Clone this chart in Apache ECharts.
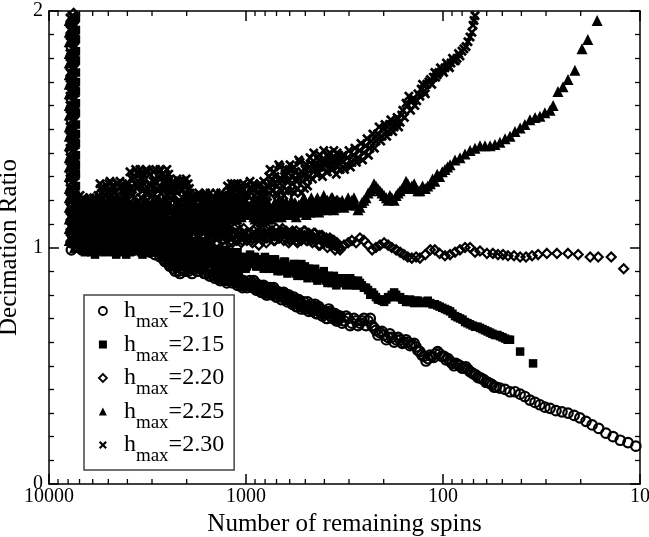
<!DOCTYPE html>
<html><head><meta charset="utf-8">
<script src="https://cdn.jsdelivr.net/npm/echarts@6/dist/echarts.min.js"></script>
<style>html,body{margin:0;padding:0;background:#fff}#c{width:649px;height:537px}</style>
</head><body><div id="c"></div>
<script>
// ---------- data ----------
const hmaxLabels = ['2.10', '2.15', '2.20', '2.25', '2.30'];
const xTickLabels = [10000, 1000, 100, 10];
const yTickLabels = [0, 1, 2];
const logMinorTicks = [20,30,40,50,60,70,80,90,200,300,400,500,600,700,800,900,2000,3000,4000,5000,6000,7000,8000,9000];

// N positions of the dense region (interleaved rows)
const blobN = [6960,6760,6567,6377,6193,6016,5842,5674,5510,5352,5196,5047,4902,4762,4624,4491,4362,4236,4114,3996,3881,3769,3660,3555,3453,3353,3257,3162,3072,2983,2897,2813,2733,2654,2578,2503,2431,2361,2293,2227,2163,2100,2040,1982,1924,1869,1815,1763,1712,1663,1615,1568,1523,1480,1437,1395,1355,1316,1278,1241,1206,1171,1137,1104,1073,1042,1012];
const blobN2 = [6859,6663,6471,6284,6104,5928,5757,5591,5430,5274,5121,4974,4831,4693,4557,4426,4299,4175,4055,3938,3825,3714,3607,3504,3403,3305,3209,3117,3027,2940,2855,2773,2693,2616,2540,2467,2396,2327,2260,2195,2131,2070,2011,1953,1896,1842,1789,1737,1687,1639,1591,1545,1501,1458,1416,1375,1335,1297,1259,1223,1188,1154,1120,1088,1057,1027,997];
const blobN3 = [6809,6615,6424,6238,6060,5885,5715,5550,5391,5235,5084,4938,4796,4658,4524,4394,4267,4144,4025,3909,3797,3687,3581,3478,3378,3281,3185,3094,3005,2918,2834,2753,2673,2597,2521,2449,2378,2310,2243,2179,2115,2055,1996,1938,1882,1828,1776,1724,1675,1627,1579,1534,1490,1447,1405,1365,1325,1287,1250,1214,1179,1145,1112,1080,1049,1019,990];
const blobN4 = [6909,6711,6519,6330,6148,5972,5799,5632,5470,5313,5158,5010,4866,4727,4590,4458,4330,4205,4084,3967,3853,3741,3633,3529,3428,3329,3233,3139,3049,2961,2876,2793,2713,2635,2559,2485,2413,2344,2276,2211,2147,2085,2025,1967,1910,1855,1802,1750,1699,1651,1603,1556,1512,1469,1426,1385,1345,1306,1268,1232,1197,1162,1128,1096,1065,1034,1004];
const midN = [954,927,900,874,849,825,801,778,755,734,713,692,672,653,634,616,598,581,564,548,532,517,502,487,473,460,446,434,421,409,397,386,375,364,353,343];
const midN2 = [940,913,887,861,837,813,789,766,744,723,702,682,662,643,625,607,589,572,556,540,524,509,494,480,466,453,440,427,415,403,391,380,369,358,348,338];
const midN3 = [933,906,880,855,831,807,783,760,739,718,697,677,657,638,620,602,585,568,552,536,520,505,490,476,463,449,437,424,412,400,388,377,366,355,345,335];

// hmax = 2.10 (open circles)
const circlesColumnN = 7700;
const circlesColumn = [1.95,1.90,1.85,1.81,1.76,1.72,1.68,1.63,1.59,1.54,1.50,1.46,1.41,1.37,1.32,1.28,1.24,1.19,1.15,1.11,1.06,1.02,0.99];
const circlesBlob = [1.00,1.05,0.99,1.03,1.07,1.00,1.04,0.99,1.02,1.06,0.99,1.03,1.00,1.05,0.99,1.02,1.06,1.00,1.03,0.99,1.04,1.01,0.99,1.05,1.00,1.02,0.99,1.04,0.98,1.01,0.97,1.02,0.96,0.99,0.94,0.97,0.92,0.96,0.90,0.94,0.89,0.93,0.90,0.94,0.91,0.95,0.92,0.90,0.94,0.91,0.93,0.90,0.88,0.92,0.87,0.90,0.86,0.89,0.87,0.86,0.88,0.85,0.87,0.84,0.86,0.83,0.85];
const circlesBlob2 = [1.03,0.99,1.06,1.01,0.99,1.05,0.99,1.03,0.99,1.04,1.01,0.99,1.06,1.00,1.03,0.99,1.02,1.05,0.99,1.04,1.00,0.99,1.03,1.00,1.04,0.99,1.03,0.99,1.02,0.99,1.03,0.98,0.99,0.95,0.98,0.93,0.95,0.91,0.93,0.90,0.93,0.91,0.93,0.90,0.94,0.91,0.93,0.95,0.91,0.93,0.89,0.92,0.90,0.88,0.90,0.87,0.89,0.86,0.88,0.89,0.86,0.88,0.85,0.87,0.84,0.86,0.84];
const circlesBlob3 = [0.99,1.02,1.01,1.05,0.99,1.02,1.06,1.01,1.04,1.00,1.02,1.05,0.99,1.02,1.04,1.00,0.99,1.03,1.01,1.02,1.00,1.03,1.01,0.99,1.02,1.01,1.00,0.99,1.00,0.99,1.00,0.99,0.97,0.97,0.95,0.95,0.93,0.93,0.92,0.92,0.91,0.90,0.92,0.92,0.89,0.93,0.90,0.92,0.92,0.89,0.91,0.88,0.91,0.89,0.88,0.88,0.87,0.88,0.85,0.87,0.87,0.86,0.86,0.85,0.85,0.85,0.83];
const circlesMid = [0.86,0.83,0.85,0.82,0.84,0.81,0.83,0.80,0.83,0.80,0.82,0.79,0.81,0.79,0.80,0.77,0.79,0.76,0.78,0.75,0.77,0.76,0.74,0.77,0.75,0.73,0.76,0.72,0.74,0.71,0.73,0.70,0.73,0.70,0.72,0.69];
const circlesMid2 = [0.84,0.86,0.82,0.84,0.81,0.84,0.80,0.82,0.81,0.83,0.79,0.81,0.78,0.81,0.78,0.80,0.77,0.79,0.75,0.78,0.74,0.77,0.75,0.73,0.76,0.74,0.72,0.75,0.72,0.73,0.70,0.74,0.71,0.72,0.69,0.71];
const circlesMid3 = [0.85,0.84,0.83,0.83,0.82,0.82,0.81,0.81,0.82,0.81,0.81,0.80,0.80,0.80,0.79,0.78,0.78,0.77,0.77,0.76,0.76,0.75,0.75,0.75,0.74,0.75,0.74,0.73,0.73,0.72,0.72,0.72,0.72,0.71,0.70,0.70];
const circlesTailN = [333,318,303,290,276,264,252,240,229,219,209,199,190,182,173,165,158,151,144,137,131,125,119,114,109,104,98.8,94.3,90.0,85.9,82.0,78.3,74.7,71.3,68.0,64.9,61.9,59.1,56.4,53.8,51.4,48.4,45.7,43.1,40.6,38.4,36.2,34.1,32.2,30.4,28.6,26.7,24.9,23.2,21.6,20.2,18.8,17.5,16.2,14.9,13.7,12.6,11.5,10.5];
const circlesTail = [0.71,0.69,0.70,0.68,0.69,0.68,0.70,0.69,0.67,0.65,0.64,0.63,0.62,0.62,0.61,0.61,0.60,0.60,0.59,0.58,0.56,0.54,0.53,0.54,0.55,0.55,0.54,0.53,0.51,0.51,0.50,0.49,0.485,0.47,0.46,0.45,0.44,0.43,0.42,0.41,0.405,0.40,0.39,0.39,0.38,0.37,0.355,0.345,0.335,0.325,0.32,0.31,0.305,0.30,0.29,0.28,0.265,0.25,0.235,0.215,0.20,0.185,0.175,0.16];
const circlesTail2N = [325,310,296,283,270,258,246,234,224,214,204,194,186,177,169,161,154,147,140,134,128,122,116.5,111.5,106.5,101.4,96.5,92.1,87.9,83.9,80.1,76.5,73,69.6,66.4,63.4,60.5,57.7,55.1];
const circlesTail2 = [0.68,0.71,0.67,0.70,0.67,0.69,0.67,0.70,0.66,0.63,0.645,0.61,0.635,0.60,0.62,0.595,0.61,0.585,0.595,0.565,0.545,0.52,0.545,0.535,0.56,0.54,0.525,0.52,0.50,0.505,0.49,0.495,0.475,0.465,0.45,0.445,0.43,0.425,0.41];

// hmax = 2.15 (filled squares)
const squaresColumnN = 7300;
const squaresColumn = [1.97,1.92,1.88,1.83,1.79,1.74,1.70,1.66,1.61,1.57,1.52,1.48,1.44,1.39,1.35,1.31,1.26,1.22,1.18,1.13,1.09,1.05];
const squaresBlob = [1.00,1.06,0.98,1.04,1.08,1.01,0.97,1.05,1.02,1.07,0.99,1.03,1.06,0.98,1.04,1.00,1.07,0.99,1.03,1.05,0.98,1.02,1.06,1.00,1.04,0.97,1.05,1.01,1.07,0.99,1.03,1.00,1.05,0.98,1.02,1.04,0.97,1.01,1.03,0.96,1.00,0.94,0.99,1.02,0.95,0.98,1.01,0.94,0.97,1.00,0.95,0.98,1.01,0.93,0.97,0.99,0.92,0.96,0.99,0.93,0.97,0.91,0.95,0.98,0.92,0.96,0.93];
const squaresBlob2 = [1.04,0.99,1.07,1.02,0.98,1.05,1.03,1.00,1.06,0.98,1.04,1.08,1.01,1.05,0.97,1.03,1.01,1.05,0.97,1.02,1.06,0.99,1.03,1.07,0.98,1.02,1.00,1.06,0.98,1.04,1.07,1.02,0.99,1.03,1.06,0.99,1.02,1.05,0.98,1.02,0.97,1.01,0.96,0.99,1.00,0.95,0.97,1.00,0.94,0.98,1.00,0.96,0.94,0.99,0.95,0.92,0.97,0.93,0.95,0.98,0.92,0.96,0.93,0.90,0.95,0.91,0.94];
const squaresBlob3 = [1.02,1.03,1.00,1.06,1.01,0.99,1.04,1.02,0.99,1.03,1.05,1.00,1.03,1.02,1.06,0.98,1.04,1.02,1.00,1.06,1.03,1.04,0.99,1.03,1.02,1.05,1.02,0.99,1.03,1.05,0.98,1.04,1.02,1.00,0.99,1.02,1.00,0.98,1.00,0.98,0.98,0.97,1.01,0.96,0.97,1.01,0.99,0.96,0.99,0.95,0.97,0.99,0.96,0.96,0.93,0.96,0.94,0.98,0.91,0.95,0.94,0.93,0.97,0.94,0.91,0.93,0.92];
const squaresBlob4 = [1.06,1.01,1.03,0.99,1.05,1.03,1.07,0.99,1.04,1.01,1.07,0.99,1.04,1.06,1.01,1.05,0.99,1.04,1.06,1.01,1.04,1.07,1.01,1.05,0.99,1.03,1.06,1.03,1.00,1.06,1.01,1.05,0.99,1.04,1.00,1.06,1.03,0.99,1.02,1.00,1.02,0.99,0.97,1.00,0.98,0.96,1.00,0.97,0.95,0.99,0.97,1.00,0.98,0.94,0.98,0.95,0.98,0.94,0.97,0.91,0.96,0.98,0.94,0.92,0.96,0.94,0.91];
const squaresMid = [0.97,0.93,0.96,0.92,0.95,0.93,0.96,0.91,0.94,0.92,0.95,0.90,0.93,0.91,0.94,0.89,0.92,0.90,0.93,0.88,0.91,0.89,0.92,0.87,0.90,0.88,0.91,0.86,0.89,0.87,0.88,0.85,0.87,0.86,0.85,0.86];
const squaresMid2 = [0.94,0.96,0.92,0.95,0.93,0.91,0.94,0.93,0.91,0.95,0.92,0.93,0.90,0.94,0.91,0.92,0.90,0.93,0.89,0.91,0.93,0.88,0.90,0.91,0.88,0.90,0.87,0.89,0.87,0.90,0.86,0.88,0.85,0.88,0.84,0.87];
const squaresMid3 = [0.95,0.95,0.94,0.93,0.94,0.92,0.95,0.92,0.93,0.93,0.93,0.92,0.92,0.92,0.92,0.91,0.91,0.91,0.91,0.90,0.90,0.90,0.91,0.89,0.89,0.89,0.89,0.88,0.88,0.88,0.87,0.87,0.86,0.87,0.86,0.85];
const squaresTailN = [333,318,303,290,276,264,252,240,229,219,209,199,190,182,173,165,158,151,144,137,131,123,116,110,104,97.7,92.1,86.9,82.0,77.3,72.9,68.8,64.9,61.2,57.7,54.5,51.4,48.4,45.7,40.6,34.9];
const squaresTail = [0.85,0.87,0.85,0.86,0.84,0.85,0.83,0.82,0.81,0.79,0.78,0.77,0.79,0.80,0.80,0.79,0.78,0.77,0.77,0.775,0.77,0.77,0.765,0.76,0.75,0.74,0.73,0.71,0.70,0.685,0.675,0.665,0.66,0.65,0.64,0.63,0.625,0.615,0.61,0.56,0.51];
const squaresTail2N = [325,310,296,283,270,258,246,234,224,214,204,194,186,177,169,161,154,147,140,134,127,119.5,113,107,100.9,94.9,89.5,84.4,79.6,75.1,70.8,66.8,63,59.4,56.1,52.9,49.9,47];
const squaresTail2 = [0.86,0.84,0.87,0.84,0.86,0.84,0.83,0.80,0.80,0.78,0.775,0.78,0.79,0.81,0.79,0.78,0.77,0.78,0.765,0.775,0.765,0.775,0.76,0.755,0.745,0.735,0.72,0.705,0.695,0.68,0.67,0.665,0.655,0.645,0.635,0.63,0.62,0.61];

// hmax = 2.20 (open diamonds)
const diamondsColumnN = 7500;
const diamondsColumn = [1.99,1.95,1.90,1.86,1.81,1.77,1.73,1.68,1.64,1.59,1.55,1.51,1.46,1.42,1.37,1.33,1.29,1.24,1.20,1.15,1.10,1.05,1.01];
const diamondsBlob = [1.03,1.10,1.00,1.07,1.12,1.02,1.08,1.05,1.11,1.01,1.06,1.09,1.03,1.12,1.04,1.08,1.00,1.10,1.05,1.13,1.02,1.07,1.11,1.04,1.09,1.01,1.06,1.12,1.03,1.08,1.00,1.10,1.05,1.11,1.02,1.07,1.09,1.03,1.12,1.06,1.01,1.08,1.04,1.10,1.02,1.07,1.05,1.09,1.03,1.08,1.01,1.06,1.09,1.04,1.07,1.02,1.06,1.03,1.08,1.04,1.07,1.02,1.06,1.04,1.07,1.03,1.05];
const diamondsBlob2 = [1.08,1.04,1.12,1.01,1.06,1.10,1.03,1.11,1.05,1.09,1.13,1.04,1.08,1.02,1.10,1.06,1.12,1.03,1.08,1.01,1.10,1.05,1.02,1.09,1.04,1.11,1.07,1.02,1.10,1.05,1.12,1.03,1.08,1.01,1.10,1.04,1.06,1.11,1.02,1.09,1.05,1.03,1.10,1.06,1.09,1.04,1.08,1.01,1.07,1.04,1.09,1.03,1.06,1.08,1.02,1.05,1.09,1.07,1.04,1.08,1.03,1.06,1.09,1.05,1.02,1.08,1.06];
const diamondsBlob3 = [1.06,1.01,1.09,1.04,1.10,1.05,1.11,1.02,1.08,1.05,1.03,1.10,1.06,1.09,1.01,1.11,1.04,1.07,1.02,1.09,1.06,1.03,1.10,1.07,1.02,1.08,1.04,1.09,1.06,1.01,1.09,1.05,1.11,1.04,1.07,1.03,1.10,1.05,1.08,1.03,1.07,1.10,1.03,1.08,1.05,1.10,1.02,1.06,1.05,1.02,1.07,1.05,1.03,1.06,1.08,1.04,1.03,1.05,1.06,1.02,1.05,1.08,1.03,1.07,1.05,1.04,1.03];
const diamondsMid = [1.06,1.02,1.08,1.04,1.07,1.03,1.06,1.08,1.04,1.07,1.03,1.06,1.05,1.08,1.04,1.06,1.03,1.07,1.05,1.02,1.06,1.04,1.07,1.03,1.05,1.02,1.06,1.04,1.01,1.05,1.03,1.00,1.04,1.02,0.99,1.01];
const diamondsMid2 = [1.03,1.07,1.05,1.01,1.05,1.08,1.02,1.05,1.07,1.03,1.08,1.04,1.07,1.03,1.07,1.02,1.05,1.04,1.07,1.04,1.03,1.07,1.03,1.06,1.03,1.06,1.03,1.01,1.05,1.02,1.04,1.02,1.01,1.03,1.01,1.00];
const diamondsMid3 = [1.04,1.05,1.06,1.06,1.05,1.05,1.04,1.06,1.05,1.05,1.05,1.04,1.06,1.06,1.05,1.04,1.06,1.05,1.03,1.05,1.05,1.05,1.05,1.04,1.04,1.04,1.04,1.05,1.03,1.03,1.02,1.03,1.03,1.01,1.02,1.00];
const diamondsTailN = [333,318,303,290,276,264,252,240,229,219,209,199,190,182,173,165,158,151,144,137,131,123,116,110,104,97.7,92.1,86.9,82.0,77.3,72.9,68.8,64.9,59.8,55.8,52.6,49.6,46.8,43.6,40.6,37.9,35.3,32.9,29.7,26.4,23.2,20.6,17.9,16.3,14.0,12.1];
const diamondsTail = [0.99,1.01,1.02,1.03,1.02,1.04,1.03,1.01,0.99,1.00,1.01,1.02,1.01,1.00,0.99,0.98,0.97,0.96,0.955,0.96,0.955,0.97,0.99,0.99,0.975,0.965,0.97,0.98,0.99,1.00,1.00,0.98,0.985,0.975,0.975,0.97,0.97,0.965,0.965,0.96,0.96,0.965,0.97,0.975,0.975,0.975,0.97,0.96,0.96,0.96,0.91];

// hmax = 2.25 (filled triangles)
const trianglesColumnN = 7900;
const trianglesColumn = [1.96,1.91,1.87,1.82,1.78,1.73,1.69,1.65,1.60,1.56,1.51,1.47,1.43,1.38,1.34,1.30,1.25,1.21,1.17,1.12,1.08,1.03];
const trianglesColumn2N = 7420;
const trianglesColumn2 = [1.94,1.89,1.85,1.80,1.75,1.71,1.66,1.62,1.58,1.53,1.49,1.44,1.40,1.35,1.31,1.27,1.22,1.18,1.14,1.09,1.05,1.00];
const trianglesBlob = [1.06,1.15,1.09,1.18,1.05,1.13,1.17,1.08,1.12,1.04,1.16,1.10,1.19,1.07,1.14,1.09,1.17,1.05,1.12,1.20,1.08,1.15,1.11,1.19,1.06,1.14,1.10,1.18,1.07,1.16,1.12,1.20,1.09,1.15,1.05,1.13,1.18,1.08,1.14,1.11,1.17,1.07,1.13,1.10,1.16,1.08,1.14,1.11,1.18,1.09,1.15,1.12,1.17,1.10,1.14,1.11,1.16,1.12,1.18,1.13,1.17,1.14,1.19,1.15,1.18,1.16,1.20];
const trianglesBlob2 = [1.11,1.07,1.16,1.04,1.14,1.09,1.12,1.19,1.06,1.15,1.08,1.18,1.05,1.13,1.20,1.11,1.08,1.14,1.18,1.06,1.16,1.10,1.17,1.07,1.13,1.19,1.05,1.15,1.11,1.09,1.18,1.06,1.14,1.10,1.19,1.07,1.12,1.16,1.09,1.18,1.10,1.14,1.19,1.06,1.12,1.17,1.09,1.15,1.11,1.16,1.08,1.19,1.12,1.15,1.18,1.09,1.13,1.17,1.10,1.19,1.12,1.16,1.14,1.18,1.13,1.19,1.15];
const trianglesBlob3 = [1.09,1.13,1.06,1.16,1.10,1.07,1.15,1.12,1.09,1.14,1.07,1.13,1.16,1.10,1.06,1.18,1.13,1.10,1.16,1.08,1.13,1.18,1.07,1.14,1.17,1.09,1.15,1.12,1.19,1.10,1.14,1.08,1.17,1.12,1.08,1.16,1.11,1.14,1.18,1.09,1.13,1.16,1.09,1.15,1.12,1.18,1.10,1.16,1.13,1.19,1.11,1.14,1.16,1.12,1.17,1.14,1.10,1.15,1.13,1.16,1.15,1.18,1.12,1.16,1.17,1.14,1.18];
const trianglesBlob4 = [1.12,1.18,1.11,1.14,1.08,1.17,1.10,1.16,1.15,1.11,1.18,1.08,1.15,1.18,1.11,1.14,1.10,1.16,1.09,1.14,1.17,1.12,1.15,1.10,1.16,1.12,1.18,1.09,1.15,1.19,1.11,1.16,1.12,1.18,1.14,1.10,1.16,1.13,1.11,1.16,1.15,1.10,1.17,1.13,1.18,1.11,1.16,1.13,1.16,1.12,1.18,1.14,1.10,1.16,1.12,1.18,1.14,1.10,1.16,1.15,1.19,1.12,1.17,1.13,1.15,1.19,1.17];
const trianglesMid = [1.14,1.18,1.12,1.17,1.13,1.19,1.15,1.12,1.17,1.14,1.19,1.13,1.16,1.20,1.15,1.18,1.14,1.17,1.19,1.15,1.18,1.16,1.20,1.17,1.15,1.19,1.17,1.21,1.16,1.19,1.17,1.20,1.18,1.21,1.17,1.20];
const trianglesMid2 = [1.17,1.13,1.19,1.15,1.11,1.16,1.20,1.14,1.12,1.18,1.15,1.20,1.13,1.17,1.19,1.14,1.20,1.16,1.13,1.18,1.15,1.21,1.14,1.19,1.21,1.16,1.20,1.15,1.19,1.22,1.16,1.18,1.21,1.16,1.20,1.18];
const trianglesMid3 = [1.16,1.15,1.17,1.13,1.16,1.14,1.17,1.16,1.15,1.16,1.17,1.15,1.18,1.14,1.17,1.16,1.18,1.15,1.16,1.17,1.19,1.17,1.18,1.15,1.18,1.17,1.19,1.18,1.18,1.20,1.19,1.17,1.19,1.19,1.18,1.19];
const trianglesTailN = [333,318,303,290,276,264,252,240,229,219,209,199,190,182,173,165,158,151,144,137,131,123,116,110,104,97.7,92.1,86.9,82.0,77.3,72.9,68.8,64.9,61.2,57.7,54.5,51.4,48.4,45.7,43.1,40.6,38.4,36.2,34.1,32.2,30.4,28.6,27.6,26.1,24.6,23.2,21.4,19.7,18.4,16.5];
const trianglesTail = [1.19,1.17,1.21,1.20,1.18,1.17,1.20,1.23,1.25,1.26,1.24,1.22,1.20,1.21,1.22,1.24,1.26,1.27,1.26,1.25,1.24,1.25,1.27,1.28,1.30,1.33,1.35,1.37,1.38,1.395,1.41,1.42,1.43,1.43,1.43,1.435,1.445,1.46,1.47,1.49,1.505,1.52,1.54,1.55,1.555,1.57,1.58,1.60,1.66,1.68,1.71,1.75,1.84,1.88,1.96];
const trianglesTail2N = [325,310,296,283,270,258,246,234,224,214,204,194,186,177,169,161,154,147,140,134,127,119.5,113,107,100.9,94.9];
const trianglesTail2 = [1.20,1.19,1.18,1.21,1.16,1.19,1.21,1.24,1.27,1.25,1.23,1.21,1.22,1.20,1.23,1.25,1.28,1.25,1.27,1.24,1.26,1.26,1.29,1.31,1.32,1.34];

// hmax = 2.30 (crosses)
const crossesColumnN = 7600;
const crossesColumn = [1.98,1.93,1.89,1.84,1.80,1.76,1.71,1.67,1.62,1.58,1.54,1.49,1.45,1.41,1.36,1.32,1.28,1.24,1.20,1.16,1.12,1.07,1.02];
const crossesColumn2N = 7820;
const crossesColumn2 = [1.97,1.92,1.87,1.82,1.78,1.74,1.69,1.64,1.60,1.56,1.51,1.47,1.42,1.38,1.34,1.29,1.25,1.21,1.17,1.13,1.09,1.04];
const crossesBlob = [1.22,1.14,1.18,1.10,1.21,1.13,1.17,1.11,1.27,1.17,1.22,1.14,1.28,1.18,1.23,1.15,1.28,1.19,1.24,1.16,1.32,1.22,1.27,1.19,1.33,1.24,1.29,1.20,1.31,1.23,1.28,1.21,1.33,1.25,1.30,1.22,1.29,1.20,1.25,1.17,1.28,1.21,1.26,1.18,1.23,1.15,1.19,1.12,1.22,1.16,1.20,1.13,1.23,1.17,1.21,1.14,1.22,1.18,1.20,1.26,1.19,1.23,1.17,1.27,1.21,1.25,1.20];
const crossesBlob2 = [1.16,1.20,1.12,1.19,1.15,1.21,1.12,1.18,1.20,1.25,1.16,1.27,1.19,1.25,1.17,1.21,1.26,1.14,1.20,1.27,1.25,1.30,1.17,1.31,1.21,1.27,1.33,1.23,1.26,1.32,1.19,1.30,1.23,1.28,1.20,1.31,1.23,1.27,1.19,1.28,1.24,1.16,1.29,1.22,1.18,1.21,1.14,1.23,1.19,1.11,1.21,1.17,1.20,1.13,1.23,1.16,1.19,1.12,1.22,1.22,1.27,1.18,1.25,1.20,1.26,1.18,1.23];
const crossesBlob3 = [1.19,1.12,1.20,1.15,1.09,1.17,1.20,1.14,1.23,1.19,1.26,1.21,1.16,1.21,1.27,1.19,1.24,1.22,1.27,1.18,1.29,1.21,1.25,1.31,1.26,1.18,1.32,1.27,1.22,1.29,1.25,1.32,1.20,1.27,1.33,1.24,1.26,1.22,1.29,1.19,1.24,1.27,1.20,1.25,1.20,1.17,1.22,1.16,1.19,1.22,1.15,1.18,1.21,1.16,1.19,1.22,1.15,1.21,1.17,1.24,1.21,1.27,1.22,1.18,1.24,1.22,1.26];
const crossesBlob4 = [1.13,1.21,1.16,1.20,1.12,1.19,1.15,1.22,1.25,1.21,1.18,1.24,1.22,1.26,1.20,1.27,1.17,1.26,1.22,1.25,1.23,1.30,1.33,1.26,1.29,1.31,1.23,1.32,1.26,1.28,1.33,1.24,1.29,1.31,1.25,1.28,1.21,1.28,1.24,1.26,1.19,1.28,1.23,1.27,1.21,1.19,1.17,1.21,1.14,1.18,1.23,1.20,1.16,1.21,1.17,1.20,1.23,1.16,1.19,1.20,1.25,1.21,1.26,1.23,1.19,1.27,1.22];
const crossesMid = [1.28,1.20,1.25,1.18,1.27,1.21,1.24,1.19,1.33,1.24,1.30,1.22,1.34,1.26,1.31,1.24,1.35,1.27,1.32,1.25,1.36,1.28,1.33,1.26,1.38,1.29,1.35,1.31,1.39,1.30,1.36,1.32,1.40,1.33,1.37,1.34];
const crossesMid2 = [1.23,1.27,1.19,1.26,1.22,1.28,1.20,1.30,1.27,1.32,1.23,1.35,1.29,1.22,1.33,1.28,1.24,1.34,1.29,1.37,1.23,1.31,1.35,1.30,1.33,1.40,1.31,1.37,1.34,1.41,1.32,1.38,1.35,1.41,1.31,1.39];
const crossesMid3 = [1.25,1.22,1.23,1.22,1.24,1.18,1.26,1.23,1.29,1.27,1.26,1.29,1.24,1.30,1.28,1.33,1.30,1.23,1.28,1.31,1.32,1.25,1.29,1.34,1.35,1.33,1.38,1.34,1.36,1.35,1.39,1.36,1.37,1.36,1.40,1.37];
const crossesTailN = [333,322,311,300,290,280,270,261,252,243,235,227,219,211,204,197,190,184,177,171,165,160,154,149,144,139,134,129,125,121,116,112,109,105,101,97.7,94.3,91.1,87.9,84.9,82.0,80.1,78.3,76.4,74.7,72.9,71.3,70.4,69.6,68.8];
const crossesTail = [1.33,1.39,1.35,1.41,1.36,1.42,1.38,1.44,1.40,1.46,1.42,1.48,1.45,1.51,1.47,1.52,1.49,1.54,1.51,1.55,1.53,1.58,1.61,1.64,1.62,1.60,1.65,1.67,1.66,1.69,1.71,1.72,1.72,1.74,1.75,1.76,1.77,1.78,1.79,1.80,1.81,1.83,1.84,1.85,1.87,1.89,1.91,1.94,1.96,1.98];
const crossesTail2N = [327,316,305,295,285,275,265,256,247,239,231,223,215,207,200,193,187,180,174,168,162,157,151,146,141,136,131,127,123,118,114,110,107,103,99.3,96,92.7,89.5,86.4,83.4];
const crossesTail2 = [1.37,1.33,1.38,1.34,1.39,1.36,1.41,1.37,1.43,1.39,1.45,1.42,1.48,1.45,1.50,1.47,1.52,1.49,1.53,1.51,1.56,1.55,1.60,1.58,1.63,1.62,1.64,1.69,1.65,1.70,1.69,1.74,1.73,1.76,1.74,1.78,1.76,1.80,1.79,1.82];

// ---------- chart ----------
const FONT = '"Liberation Serif","Times New Roman",serif';
const col = (n, vs) => vs.map(v => [n, v]);
const zip = (ns, vs) => ns.map((n, i) => [n, vs[i]]);

const crossPath = 'path://M0,1.9L1.9,0L5,3.1L8.1,0L10,1.9L6.9,5L10,8.1L8.1,10L5,6.9L1.9,10L0,8.1L3.1,5Z';
const hollow = {color: 'rgba(0,0,0,0)', borderColor: '#000', borderWidth: 2.2, opacity: 1};
const filled = {color: '#000', opacity: 1};

const defs = [
  {symbol: 'circle', size: 9.5, style: hollow, data: [].concat(
    col(circlesColumnN, circlesColumn), zip(blobN, circlesBlob), zip(blobN2, circlesBlob2), zip(blobN3, circlesBlob3),
    zip(midN, circlesMid), zip(midN2, circlesMid2), zip(midN3, circlesMid3),
    zip(circlesTailN, circlesTail), zip(circlesTail2N, circlesTail2))},
  {symbol: 'rect', size: 8.5, style: filled, data: [].concat(
    col(squaresColumnN, squaresColumn), zip(blobN, squaresBlob), zip(blobN2, squaresBlob2), zip(blobN3, squaresBlob3), zip(blobN4, squaresBlob4),
    zip(midN, squaresMid), zip(midN2, squaresMid2), zip(midN3, squaresMid3),
    zip(squaresTailN, squaresTail), zip(squaresTail2N, squaresTail2))},
  {symbol: 'diamond', size: 9, style: hollow, data: [].concat(
    col(diamondsColumnN, diamondsColumn), zip(blobN, diamondsBlob), zip(blobN2, diamondsBlob2), zip(blobN3, diamondsBlob3),
    zip(midN, diamondsMid), zip(midN2, diamondsMid2), zip(midN3, diamondsMid3),
    zip(diamondsTailN, diamondsTail))},
  {symbol: 'triangle', size: 11, style: filled, data: [].concat(
    col(trianglesColumnN, trianglesColumn), col(trianglesColumn2N, trianglesColumn2),
    zip(blobN, trianglesBlob), zip(blobN2, trianglesBlob2), zip(blobN3, trianglesBlob3), zip(blobN4, trianglesBlob4),
    zip(midN, trianglesMid), zip(midN2, trianglesMid2), zip(midN3, trianglesMid3),
    zip(trianglesTailN, trianglesTail), zip(trianglesTail2N, trianglesTail2))},
  {symbol: crossPath, size: 10, style: filled, data: [].concat(
    col(crossesColumnN, crossesColumn), col(crossesColumn2N, crossesColumn2),
    zip(blobN, crossesBlob), zip(blobN2, crossesBlob2), zip(blobN3, crossesBlob3), zip(blobN4, crossesBlob4),
    zip(midN, crossesMid), zip(midN2, crossesMid2), zip(midN3, crossesMid3),
    zip(crossesTailN, crossesTail), zip(crossesTail2N, crossesTail2))}
];

const series = defs.map((d, i) => ({
  name: hmaxLabels[i], type: 'scatter', symbol: d.symbol, symbolSize: d.size,
  itemStyle: d.style, data: d.data, emphasis: {disabled: true}, large: false, z: 2
}));
series.push({
  type: 'custom', name: 'minorTicks', coordinateSystem: 'cartesian2d', silent: true, clip: false, z: 5,
  data: logMinorTicks.map(v => [v, 0]),
  renderItem: function (params, api) {
    const n = api.value(0);
    const b = api.coord([n, 0]);
    const t = api.coord([n, 2]);
    return {type: 'group', children: [
      {type: 'line', shape: {x1: b[0], y1: b[1], x2: b[0], y2: b[1] - 5}, style: {stroke: '#000', lineWidth: 1.3}},
      {type: 'line', shape: {x1: t[0], y1: t[1], x2: t[0], y2: t[1] + 5}, style: {stroke: '#000', lineWidth: 1.3}}
    ]};
  }
});

const axisLine = {show: true, onZero: false, lineStyle: {color: '#000', width: 1.5}};
const tick = {show: true, inside: true, length: 10, lineStyle: {color: '#000', width: 1.5}};
const minor = {show: true, splitNumber: 10, length: 5, lineStyle: {color: '#000', width: 1.3}};
const xBase = {type: 'log', logBase: 10, min: 10, max: 10000, interval: 1, inverse: true,
  axisLine: axisLine, axisTick: tick, splitLine: {show: false}, minorTick: {show: false}};
const yBase = {type: 'value', min: 0, max: 2, interval: 1,
  axisLine: axisLine, axisTick: tick, minorTick: minor, splitLine: {show: false}, minorSplitLine: {show: false}};

const chart = echarts.init(document.getElementById('c'), null, {renderer: 'canvas'});
chart.setOption({
  animation: false,
  backgroundColor: '#fff',
  grid: {left: 49, right: 9, top: 11, bottom: 53, containLabel: false, outerBoundsMode: 'none'},
  xAxis: [
    Object.assign({}, xBase, {position: 'bottom',
      name: 'Number of remaining spins', nameLocation: 'middle', nameGap: 17,
      nameTextStyle: {fontFamily: FONT, fontSize: 25, color: '#000'},
      axisLabel: {show: true, margin: 3, fontFamily: FONT, fontSize: 20, color: '#000',
        formatter: v => { const r = Math.round(v); return xTickLabels.indexOf(r) >= 0 ? String(r) : ''; }}}),
    Object.assign({}, xBase, {position: 'top', axisLabel: {show: false}})
  ],
  yAxis: [
    Object.assign({}, yBase, {position: 'left',
      name: 'Decimation Ratio', nameLocation: 'middle', nameGap: 20,
      nameTextStyle: {fontFamily: FONT, fontSize: 25, color: '#000'},
      axisLabel: {show: true, margin: 6, fontFamily: FONT, fontSize: 20, color: '#000',
        formatter: v => yTickLabels.indexOf(v) >= 0 ? String(v) : ''}}),
    Object.assign({}, yBase, {position: 'right', axisLabel: {show: false}})
  ],
  legend: {
    data: hmaxLabels, orient: 'vertical', left: 84, top: 295,
    padding: [4, 10, 4, 14], itemGap: 0.5, itemWidth: 8, itemHeight: 8,
    backgroundColor: '#fff', borderColor: '#444', borderWidth: 1.5, borderRadius: 0,
    selectedMode: false,
    itemStyle: {borderWidth: 1.8},
    formatter: n => '{h|h}{s|max}{v|=' + n + '}',
    textStyle: {color: '#000', fontFamily: FONT, rich: {
      h: {fontFamily: FONT, fontSize: 24, lineHeight: 24, verticalAlign: 'top', padding: [0, 0, 0, 12], color: '#000'},
      s: {fontFamily: FONT, fontSize: 19, lineHeight: 19, verticalAlign: 'top', padding: [14, 0, 0, 0], color: '#000'},
      v: {fontFamily: FONT, fontSize: 24, lineHeight: 24, verticalAlign: 'top', color: '#000'}
    }}
  },
  series: series
});
</script></body></html>
